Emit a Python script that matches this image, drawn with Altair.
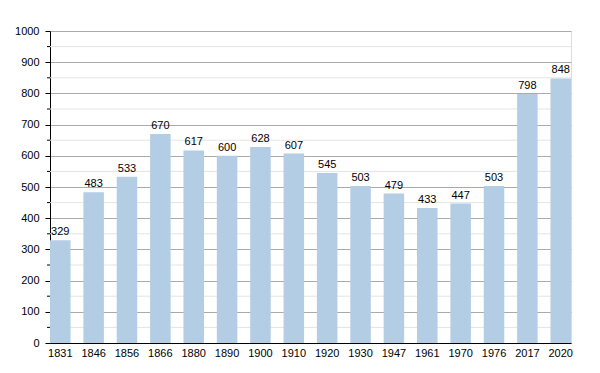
import altair as alt
import pandas as pd

years = ["1831", "1846", "1856", "1866", "1880", "1890", "1900", "1910", "1920",
         "1930", "1947", "1961", "1970", "1976", "2017", "2020"]
population = [329, 483, 533, 670, 617, 600, 628, 607, 545, 503, 479, 433, 447, 503, 798, 848]
major_ticks = [0, 100, 200, 300, 400, 500, 600, 700, 800, 900, 1000]
minor_ticks = [50, 150, 250, 350, 450, 550, 650, 750, 850, 950]

df = pd.DataFrame({"year": years, "pop": population})
minor = pd.DataFrame({"v": minor_ticks})

FONT = "Liberation Sans"
yscale = alt.Scale(domain=[0, 1000], nice=False)
yaxis = alt.Axis(title=None, values=major_ticks, format="d", labelOverlap=False,
                 grid=True, gridColor="#aaaaaa", zindex=0,
                 domainColor="#000000", tickColor="#000000", tickSize=5,
                 labelFont=FONT, labelFontSize=11, labelColor="#000000",
                 labelPadding=6)

minor_grid = alt.Chart(minor).mark_rule(color="#e4e4e4", strokeWidth=1).encode(
    y=alt.Y("v:Q", scale=yscale, axis=yaxis)
)
minor_tick = alt.Chart(minor).mark_rule(color="#000000", strokeWidth=1).encode(
    y=alt.Y("v:Q", scale=yscale, axis=yaxis),
    x=alt.value(-3), x2=alt.value(0)
)

bars = alt.Chart(df).mark_bar(color="#b3cde5", opacity=1).encode(
    x=alt.X("year:N", sort=years,
            scale=alt.Scale(paddingInner=0.385, paddingOuter=0),
            axis=alt.Axis(title=None, labelAngle=0, ticks=False, domainColor="#000000",
                          labelFont=FONT, labelFontSize=11, labelColor="#000000",
                          labelPadding=4, grid=False, zindex=1)),
    y=alt.Y("pop:Q", scale=yscale, axis=yaxis)
)

labels = alt.Chart(df).mark_text(baseline="bottom", dy=-3, font=FONT, fontSize=11,
                                 color="#000000").encode(
    x=alt.X("year:N", sort=years),
    y=alt.Y("pop:Q", scale=yscale, axis=yaxis),
    text="pop:Q"
)

chart = alt.layer(minor_grid, bars, minor_tick, labels).properties(
    width=521, height=312,
    autosize=alt.AutoSizeParams(type="none"),
    padding={"left": 42, "top": 23, "right": 20, "bottom": 20}
).configure_view(stroke=None).configure(background="#ffffff")

chart.save("out.html", embed_options={"renderer": "svg", "actions": False})
